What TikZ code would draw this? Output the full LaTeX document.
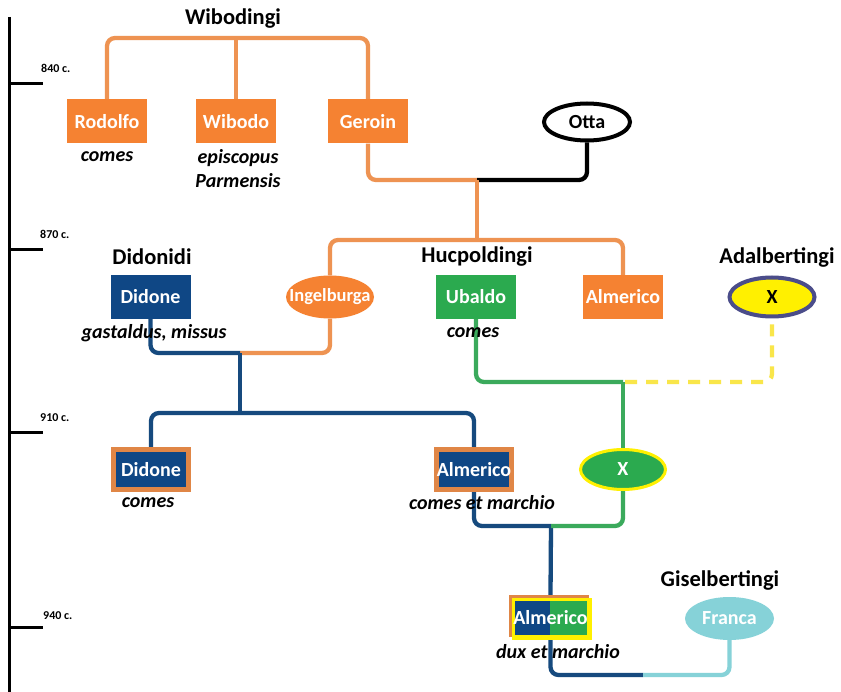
\documentclass[tikz,border=0pt]{standalone}
\usepackage{fontspec}
\setmainfont{Carlito}
\usetikzlibrary{shapes.geometric}
\pgfdeclarelayer{background}
\pgfdeclarelayer{paper}
\pgfsetlayers{paper,background,main}

\definecolor{boxorange}{HTML}{F58232}
\definecolor{lineorange}{HTML}{EE9352}
\definecolor{navyblue}{HTML}{0F4785}
\definecolor{linenavy}{HTML}{164A7E}
\definecolor{boxgreen}{HTML}{2BAA4F}
\definecolor{linegreen}{HTML}{3BAA5C}
\definecolor{xyellow}{HTML}{FFF000}
\definecolor{dashyellow}{HTML}{F9E64A}
\definecolor{slateblue}{HTML}{4B4D8A}
\definecolor{francateal}{HTML}{86D2D8}
\definecolor{frameorange}{HTML}{E08646}

\newcommand\nmfont{\fontsize{20}{24}\selectfont\bfseries}
\newcommand\ttlfont{\fontsize{22.5}{26}\selectfont\bfseries}
\newcommand\rolefont{\fontsize{20}{24}\selectfont\bfseries\itshape}
\newcommand\yrfont{\fontsize{12}{14}\selectfont\bfseries}

\tikzset{
  person/.style={rectangle, minimum width=80pt, minimum height=44pt, inner sep=0pt,
                 text=white, font=\nmfont},
  framed/.style={person, fill=navyblue, draw=frameorange, line width=5pt,
                 minimum width=75pt, minimum height=40pt},
  oval/.style={ellipse, minimum width=88pt, minimum height=43pt, inner sep=0pt, font=\nmfont},
  family/.style={font=\ttlfont, inner sep=0pt},
  role/.style={font=\rolefont, inner sep=0pt, align=center},
  year/.style={font=\yrfont, inner sep=0pt, anchor=west},
  link/.style={line width=4.3pt, rounded corners=8pt},
  timeline/.style={line width=3pt, black},
}

\begin{document}
\begin{tikzpicture}[x=1pt, y=-1pt]
  \begin{pgfonlayer}{paper}
    \fill[white] (0,0) rectangle (841,692);
  \end{pgfonlayer}
  \useasboundingbox (0,0) rectangle (841,692);

  % time axis
  \coordinate (axtop) at (9,17);
  \coordinate (axbot) at (9,692);
  \coordinate (t840) at (9,84);
  \coordinate (t870) at (9,250);
  \coordinate (t910) at (9,433);
  \coordinate (t940) at (9,627);
  \draw[timeline] (axtop) -- (axbot);
  \foreach \t in {t840,t870,t910,t940}
    \draw[timeline] (\t) -- ++(34,0);
  \node[year] (y840) at (41,68) {840 c.};
  \node[year] (y870) at (40,234) {870 c.};
  \node[year] (y910) at (40,418) {910 c.};
  \node[year] (y940) at (43,616) {940 c.};

  % Wibodingi
  \node[family] (wibodingi) at (233,19) {Wibodingi};
  \node[person, fill=boxorange] (rodolfo) at (107,121.5) {Rodolfo};
  \node[person, fill=boxorange] (wibodo) at (236,121.5) {Wibodo};
  \node[person, fill=boxorange] (geroin) at (368,121.5) {Geroin};
  \node[role] (rodolforole) at (107,157) {comes};
  \node[role] (wibodorole) at (238,169) {episcopus\\Parmensis};
  \node[oval, draw=black, line width=4pt, fill=white, minimum width=86pt, minimum height=37pt]
    (otta) at (587,122) {\makebox[0pt]{Otta}};

  % Didonidi
  \node[family] (didonidi) at (152,257) {Didonidi};
  \node[person, fill=navyblue] (didone) at (150.5,297) {Didone};
  \node[role] (didonerole) at (154,333) {gastaldus, missus};
  \node[oval, fill=boxorange, text=white, font=\fontsize{18.5}{22}\selectfont\bfseries]
    (ingelburga) at (330,297) {\makebox[0pt]{Ingelburga}};

  % Hucpoldingi
  \node[family] (hucpoldingi) at (477,257) {Hucpoldingi};
  \node[person, fill=boxgreen] (ubaldo) at (476,297) {Ubaldo};
  \node[role] (ubalderole) at (473,333) {comes};
  \node[person, fill=boxorange] (almerico) at (623,297) {\makebox[0pt]{Almerico}};

  % Adalbertingi
  \node[family] (adalbertingi) at (777,257) {Adalbertingi};
  \node[oval, fill=xyellow, draw=slateblue, line width=4pt, minimum width=85pt, minimum height=39pt]
    (adalx) at (772,297) {\makebox[0pt]{X}};

  % generation of 910
  \node[framed] (didonecomes) at (151,469.5) {Didone};
  \node[role] (didonecomesrole) at (148,503) {comes};
  \node[framed] (almericocomes) at (474,469.5) {\makebox[0pt]{Almerico}};
  \node[role] (almericocomesrole) at (482,503) {comes et marchio};
  \node[oval, fill=boxgreen, draw=xyellow, line width=3pt, text=white,
        minimum width=85pt, minimum height=40pt] (greenx) at (623,469.5) {\makebox[0pt]{X}};

  % generation of 940
  \fill[frameorange] (509,595) rectangle (589,637);
  \fill[xyellow] (512,598) rectangle (592,640);
  \fill[navyblue] (515,601) rectangle (550,635);
  \fill[boxgreen] (550,601) rectangle (587,635);
  \node[person, minimum width=83pt, minimum height=45pt] (almericodux) at (550.5,617.5)
    {\makebox[0pt]{Almerico}};
  \node[role] (almericoduxrole) at (558,652) {dux et marchio};
  \node[family] (giselbertingi) at (720,580) {Giselbertingi};
  \node[oval, fill=francateal, text=white, minimum width=89pt] (franca) at (729.5,618.5)
    {\makebox[0pt]{Franca}};

  % junctions of the lines
  \coordinate (wibbar) at (236,38);
  \coordinate (gerotta) at (477,180);
  \coordinate (sibbar) at (477,240);
  \coordinate (didingel) at (240,353);
  \coordinate (kidsbar) at (240,413);
  \coordinate (ubadal) at (623,382);
  \coordinate (almx) at (551,526);
  \coordinate (dukefranca) at (643,675);

  \begin{pgfonlayer}{background}
    \draw[link, lineorange] (rodolfo.north) |- (wibbar) -| (geroin.north);
    \draw[link, lineorange] (wibodo.north) -- (wibbar);
    \draw[link, lineorange] (geroin.south) |- (gerotta);
    \draw[link, black] (otta.south) |- (gerotta);
    \draw[link, lineorange] (gerotta) -- (sibbar);
    \draw[link, lineorange] (ingelburga.north) |- (sibbar) -| (almerico.north);
    \draw[link, lineorange] (ingelburga.south) |- (didingel);
    \draw[link, linenavy] (didone.south) |- (didingel);
    \draw[link, linenavy] (didingel) -- (kidsbar);
    \draw[link, linenavy] (didonecomes.north) |- (kidsbar) -| (almericocomes.north);
    \draw[link, linegreen] (ubaldo.south) |- (ubadal);
    \draw[link, linegreen] (ubadal) -- (greenx.north);
    \draw[link, dashyellow, dash pattern=on 12pt off 9pt] ([xshift=2pt]ubadal) -| (adalx.south);
    \draw[link, linenavy] (almericocomes.south) |- (almx);
    \draw[link, linenavy] (almx) -- (almericodux.north);
    \draw[link, linegreen] (greenx.south) |- (almx);
    \draw[link, linenavy] (almericodux.south) |- (dukefranca);
    \draw[link, francateal] (franca.south) |- (dukefranca);
  \end{pgfonlayer}
\end{tikzpicture}
\end{document}
